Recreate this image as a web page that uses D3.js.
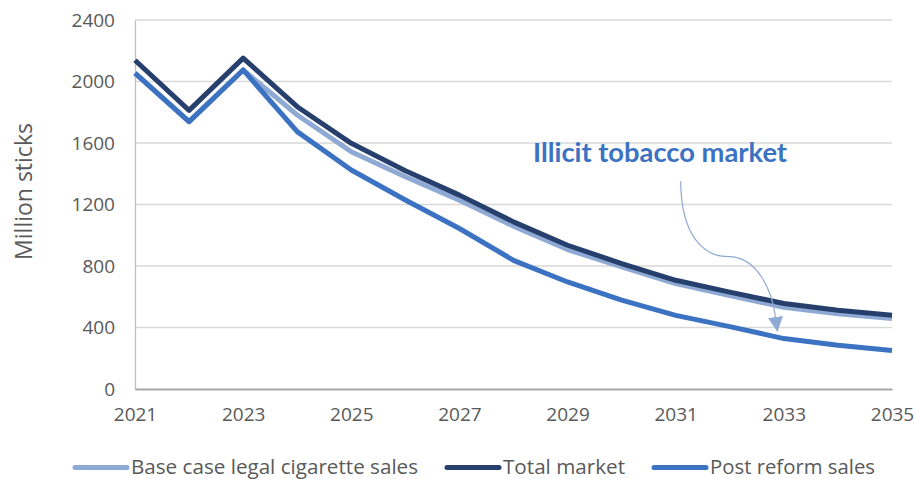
<!DOCTYPE html>
<html>
<head>
<meta charset="utf-8">
<script src="https://cdn.jsdelivr.net/npm/d3@7"></script>
<style>
  html, body { margin: 0; padding: 0; background: #fff; }
  svg { display: block; font-family: "Open Sans", "Noto Sans", sans-serif; }
</style>
</head>
<body>
<svg id="chart" width="915" height="479"></svg>
<script>
// Cigarette market projections, million sticks
const years = [2021, 2022, 2023, 2024, 2025, 2026, 2027, 2028, 2029, 2030, 2031, 2032, 2033, 2034, 2035];
const baseCase = [2054, 1739, 2075, 1782, 1543, 1380, 1228, 1059, 907, 794, 686, 608, 532, 490, 458];
const totalMarket = [2138, 1812, 2152, 1836, 1598, 1420, 1261, 1087, 935, 816, 707, 630, 556, 512, 479];
const postReform = [2054, 1739, 2075, 1674, 1424, 1229, 1044, 837, 696, 578, 479, 406, 328, 285, 251];
const yTicks = [0, 400, 800, 1200, 1600, 2000, 2400];
const xTicks = [2021, 2023, 2025, 2027, 2029, 2031, 2033, 2035];

const seriesList = [
  { name: "Base case legal cigarette sales", values: baseCase, color: "#8EA9D3" },
  { name: "Total market", values: totalMarket, color: "#263F6C" },
  { name: "Post reform sales", values: postReform, color: "#3C72C2" }
];

const svg = d3.select("#chart");
const plotLeft = 135, plotRight = 892, plotTop = 20, plotBottom = 389;
const textGrey = "#595959";

const x = d3.scaleLinear().domain([2021, 2035]).range([plotLeft, plotRight]);
const y = d3.scaleLinear().domain([0, 2400]).range([plotBottom, plotTop]);

// gridlines
svg.append("g")
  .selectAll("line")
  .data(yTicks.filter(d => d > 0))
  .join("line")
  .attr("x1", plotLeft).attr("x2", plotRight)
  .attr("y1", d => y(d)).attr("y2", d => y(d))
  .attr("stroke", "#D9D9D9").attr("stroke-width", 1.3);

// y axis
const yAxis = svg.append("g")
  .attr("transform", `translate(${plotLeft},0)`)
  .call(d3.axisLeft(y).tickValues(yTicks).tickSize(0).tickPadding(20).tickFormat(d3.format("d")));
yAxis.select(".domain").attr("stroke", "#BFBFBF").attr("stroke-width", 1.3);
yAxis.selectAll("text").attr("fill", textGrey).style("font-size", "19px")
  .style("font-family", "'Open Sans', sans-serif");

// x axis
const xAxis = svg.append("g")
  .attr("transform", `translate(0,${plotBottom})`)
  .call(d3.axisBottom(x).tickValues(xTicks).tickSize(0).tickPadding(19).tickFormat(d3.format("d")));
xAxis.select(".domain").attr("stroke", "#A6A6A6").attr("stroke-width", 2.2);
xAxis.selectAll("text").attr("fill", textGrey).style("font-size", "19px")
  .style("font-family", "'Open Sans', sans-serif");

// y axis title
svg.append("text")
  .attr("transform", `translate(32,${(plotTop + plotBottom) / 2 - 13}) rotate(-90)`)
  .attr("text-anchor", "middle")
  .attr("fill", textGrey)
  .style("font-size", "23px")
  .text("Million sticks");

// series lines
const line = d3.line().x((d, i) => x(years[i])).y(d => y(d));
svg.append("g")
  .selectAll("path")
  .data(seriesList)
  .join("path")
  .attr("d", d => line(d.values))
  .attr("fill", "none")
  .attr("stroke", d => d.color)
  .attr("stroke-width", 5)
  .attr("stroke-linejoin", "round");

// annotation
svg.append("text")
  .attr("x", 533).attr("y", 162)
  .attr("fill", "#3C72C2")
  .style("font-family", "Lato, sans-serif")
  .style("font-size", "26px").style("font-weight", "bold")
  .attr("textLength", 254)
  .attr("lengthAdjust", "spacingAndGlyphs")
  .text("Illicit tobacco market");

svg.append("defs").append("marker")
  .attr("id", "arrowHead")
  .attr("viewBox", "0 0 10 10")
  .attr("refX", 0).attr("refY", 5)
  .attr("markerWidth", 15).attr("markerHeight", 15)
  .attr("markerUnits", "userSpaceOnUse")
  .attr("orient", "auto")
  .append("path").attr("d", "M0,0 L10,5 L0,10 Z").attr("fill", "#8EA9D3");

svg.append("path")
  .attr("d", "M680.7,181 C681,235 703,256.7 728.5,256.7 C757,256.7 772,290 775.5,317")
  .attr("fill", "none")
  .attr("stroke", "#8EA9D3")
  .attr("stroke-width", 1.2)
  .attr("marker-end", "url(#arrowHead)");

// legend
const legendItems = [
  { s: seriesList[0], x0: 75, x1: 127, w: 287 },
  { s: seriesList[1], x0: 447, x1: 499, w: 122 },
  { s: seriesList[2], x0: 654, x1: 706, w: 165 }
];
const lg = svg.append("g").selectAll("g").data(legendItems).join("g");
lg.append("line")
  .attr("x1", d => d.x0).attr("x2", d => d.x1)
  .attr("y1", 467.5).attr("y2", 467.5)
  .attr("stroke", d => d.s.color).attr("stroke-width", 5).attr("stroke-linecap", "round");
lg.append("text")
  .attr("x", d => d.x1 + 4).attr("y", 473.5)
  .attr("fill", textGrey)
  .style("font-size", "20px")
  .attr("textLength", d => d.w)
  .attr("lengthAdjust", "spacingAndGlyphs")
  .text(d => d.s.name);
</script>
</body>
</html>
